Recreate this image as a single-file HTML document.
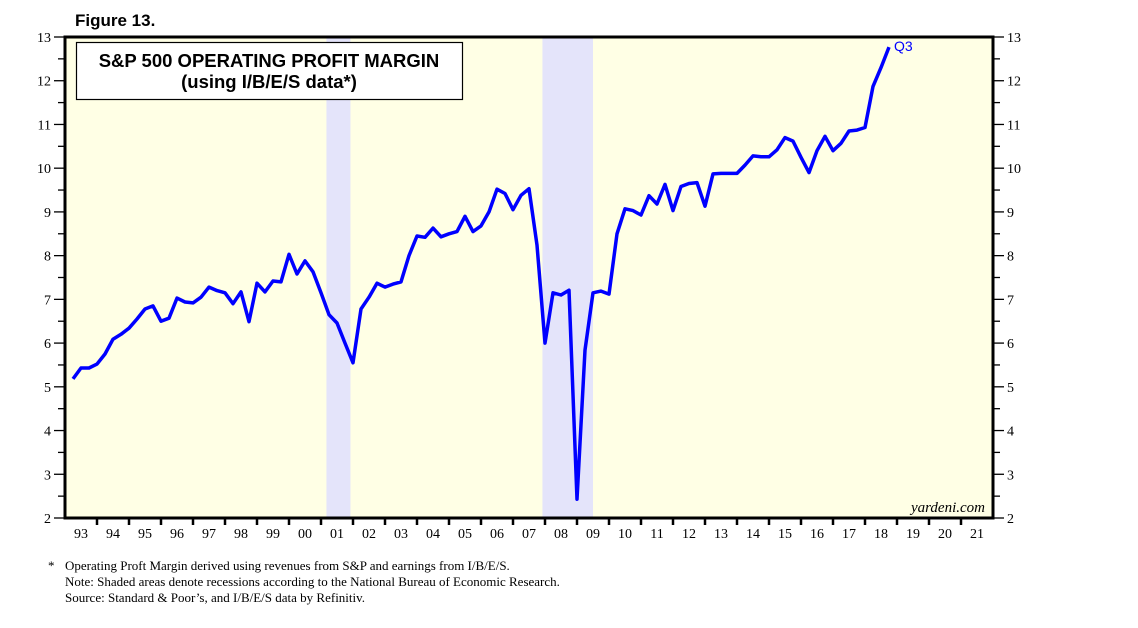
<!DOCTYPE html>
<html><head><meta charset="utf-8"><style>
body{margin:0;background:#fff;width:1138px;height:623px;overflow:hidden;font-family:"Liberation Sans",sans-serif}
</style></head><body>
<svg width="1138" height="623" xmlns="http://www.w3.org/2000/svg">
<text x="75" y="26" font-family="Liberation Sans" font-weight="bold" font-size="17">Figure 13.</text>
<g id="plot"></g>
<g>
<rect x="76.5" y="42.5" width="386" height="57" fill="#fff" stroke="#000" stroke-width="1.2"/>
<text x="269" y="67" text-anchor="middle" font-weight="bold" font-size="18.5">S&amp;P 500 OPERATING PROFIT MARGIN</text>
<text x="269" y="88" text-anchor="middle" font-weight="bold" font-size="18.5">(using I/B/E/S data*)</text>
</g>
<text x="985" y="512" text-anchor="end" font-family="Liberation Serif" font-style="italic" font-size="15">yardeni.com</text>
<g font-family="Liberation Serif" font-size="13">
<text x="48" y="570">*</text>
<text x="65" y="570">Operating Proft Margin derived using revenues from S&amp;P and earnings from I/B/E/S.</text>
<text x="65" y="586">Note: Shaded areas denote recessions according to the National Bureau of Economic Research.</text>
<text x="65" y="602">Source: Standard &amp; Poor’s, and I/B/E/S data by Refinitiv.</text>
</g>
</svg>
<script>
const startYear = 1993;
const values = [5.18,5.43,5.43,5.52, 5.75,6.09,6.2,6.34, 6.55,6.78,6.85,6.5, 6.57,7.03,6.94,6.92,
 7.05,7.28,7.2,7.15, 6.9,7.17,6.49,7.37, 7.17,7.42,7.4,8.03, 7.58,7.88,7.63,7.15,
 6.65,6.46,6.0,5.55, 6.78,7.05,7.37,7.28, 7.35,7.4,8.0,8.45, 8.42,8.63,8.43,8.5,
 8.55,8.9,8.55,8.68, 9.0,9.52,9.42,9.05, 9.38,9.53,8.24,6.0, 7.15,7.1,7.21,2.43,
 5.84,7.15,7.19,7.12, 8.5,9.07,9.03,8.93, 9.37,9.18,9.63,9.03, 9.58,9.65,9.67,9.13,
 9.87,9.88,9.88,9.88, 10.07,10.28,10.26,10.26, 10.42,10.7,10.62,10.25, 9.9,10.4,10.73,10.4,
 10.57,10.85,10.87,10.93, 11.87,12.3,12.77];
const recessionStarts = [2001.17, 2007.92];
const recessionEnds = [2001.92, 2009.5];
const yTicks = [2,3,4,5,6,7,8,9,10,11,12,13];
const yearLabels = ["93","94","95","96","97","98","99","00","01","02","03","04","05","06","07","08","09","10","11","12","13","14","15","16","17","18","19","20","21"];

const L=65,R=993,T=37,B=518,Y0=1993,Y1=2022,V0=2,V1=13;
const xs=y=>L+(y-Y0)/(Y1-Y0)*(R-L);
const ys=v=>B-(v-V0)/(V1-V0)*(B-T);
const NS="http://www.w3.org/2000/svg";
const g=document.getElementById('plot');
function mk(tag,a,p){const e=document.createElementNS(NS,tag);for(const k in a)e.setAttribute(k,a[k]);(p||g).appendChild(e);return e;}
const bg=mk('rect',{x:L,y:T,width:R-L,height:B-T,fill:'#ffffe5'});


recessionStarts.forEach((s,i)=>{
  const r=mk('rect',{x:xs(s),y:T,width:xs(recessionEnds[i])-xs(s),height:B-T,fill:'#e4e4fa'});
  
  
});
let d='';
values.forEach((v,i)=>{const x=xs(startYear+(i+1)/4);d+=(i?'L':'M')+x.toFixed(1)+' '+ys(v).toFixed(1);});
const line=mk('path',{d:d,fill:'none',stroke:'#0000ff','stroke-width':3.5,'stroke-linejoin':'round'});


const lx=xs(startYear+values.length/4), ly=ys(values[values.length-1]);
const q=mk('text',{x:lx+5,y:ly+4,fill:'#0000ff','font-size':14});
q.textContent='Q3';


const fr=mk('rect',{x:L,y:T,width:R-L,height:B-T,fill:'none',stroke:'#000','stroke-width':3});


yTicks.forEach(v=>{
  const y=ys(v);
  mk('line',{x1:L-11,x2:L,y1:y,y2:y,stroke:'#000','stroke-width':1.3});
  mk('line',{x1:R,x2:R+11,y1:y,y2:y,stroke:'#000','stroke-width':1.3});
  if(v<13){const h=ys(v+0.5);mk('line',{x1:L-7,x2:L,y1:h,y2:h,stroke:'#000','stroke-width':1.3});mk('line',{x1:R,x2:R+7,y1:h,y2:h,stroke:'#000','stroke-width':1.3});}
  const t1=mk('text',{x:L-14,y:y+5,'text-anchor':'end','font-family':'Liberation Serif','font-size':14});
  t1.textContent=v;
  
  
  const t2=mk('text',{x:R+14,y:y+5,'font-family':'Liberation Serif','font-size':14});
  t2.textContent=v;
  
  
});
yearLabels.forEach((lab,i)=>{
  const x=xs(Y0+i+1);
  if(i<yearLabels.length-1) mk('line',{x1:x,x2:x,y1:B,y2:B+7,stroke:'#000','stroke-width':2.5});
  const t=mk('text',{x:xs(Y0+i+0.5),y:B+20,'text-anchor':'middle','font-family':'Liberation Serif','font-size':14});
  t.textContent=lab;
  
  
});
</script>
</body></html>
